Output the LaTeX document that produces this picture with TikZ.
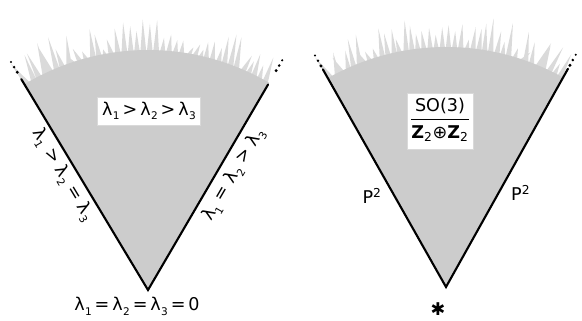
\documentclass[tikz,border=0pt]{standalone}
\usepackage{fontspec}
\setmainfont{DejaVu Sans}
\usetikzlibrary{positioning,calc}
\definecolor{ConeGray}{RGB}{204,204,204}
\definecolor{FringeGray}{RGB}{218,218,218}
\newcommand{\lam}[1]{λ\kern0.3pt\raisebox{-0.5ex}{\small #1}}
\tikzset{cone/.style={fill=ConeGray}, fringe/.style={fill=FringeGray}, rim/.style={line width=1.8pt,line cap=round}, lab/.style={font=\fontsize{15}{17}\selectfont,inner sep=2pt}, tag/.style={lab,fill=white,draw=black!15,inner sep=4pt}}

\begin{document}
\begin{tikzpicture}[x=0.03cm,y=-0.03cm]
\useasboundingbox (0,0) rectangle (582,321);
\coordinate (LA) at (148,290);
\coordinate (RA) at (446,287);
\coordinate (LL) at ($(LA)+(-121:246)$);
\coordinate (LR) at ($(LA)+(-59.7:238)$);
\coordinate (RL) at ($(RA)+(-119.5:250)$);
\coordinate (RR) at ($(RA)+(-60.8:250)$);
\pgfmathsetseed{23}
\foreach \ap/\a/\b in {LA/-121/-59.7,RA/-119.5/-60.8}{
  \fill[fringe,shift={(\ap)}] (\a:236) \foreach \i in {1,...,40}{ -- ({\a+(\i-0.5)*(\b-\a)/40}:{244+30*rnd}) -- ({\a+\i*(\b-\a)/40}:236) } -- cycle;
  \fill[cone,shift={(\ap)}] (0,0) -- plot[domain=\a:\b,samples=40] (\x:240) -- cycle;
  \foreach \r/\s in {254/1.4pt,260/1.2pt,266/1pt}{
    \fill ($(\ap)+(\a:\r)$) circle[radius=\s];
    \fill ($(\ap)+(\b:\r)$) circle[radius=\s];
  }
}
\draw[rim] (LL) -- node[lab,sloped,below=1pt,pos=0.42] (lside) {\lam{1} > \lam{2} = \lam{3}} (LA)
  -- node[lab,sloped,below=3pt,pos=0.6] (rside) {\lam{1} = \lam{2} > \lam{3}} (LR);
\draw[rim] (RL) -- node[lab,left=8pt,pos=0.58] (pleft) {P\textsuperscript{2}} (RA)
  -- node[lab,right=8pt,pos=0.43] (pright) {P\textsuperscript{2}} (RR);
\node[tag] (lbox) at (149,111) {\lam{1}\,>\,\lam{2}\,>\,\lam{3}};
\node[tag] (rbox) at (440,121) {\setlength{\arrayrulewidth}{1pt}\begin{tabular}{@{}c@{}}SO(3)\\[1pt]\hline\rule{0pt}{16pt}\textbf{Z}\textsubscript{2}⊕\textbf{Z}\textsubscript{2}\end{tabular}};
\node[lab] (zero) at (137,306) {\lam{1}\,=\,\lam{2}\,=\,\lam{3}\,=\,0};
\node[lab] (star) at (438,309) {✱};
\end{tikzpicture}
\end{document}
